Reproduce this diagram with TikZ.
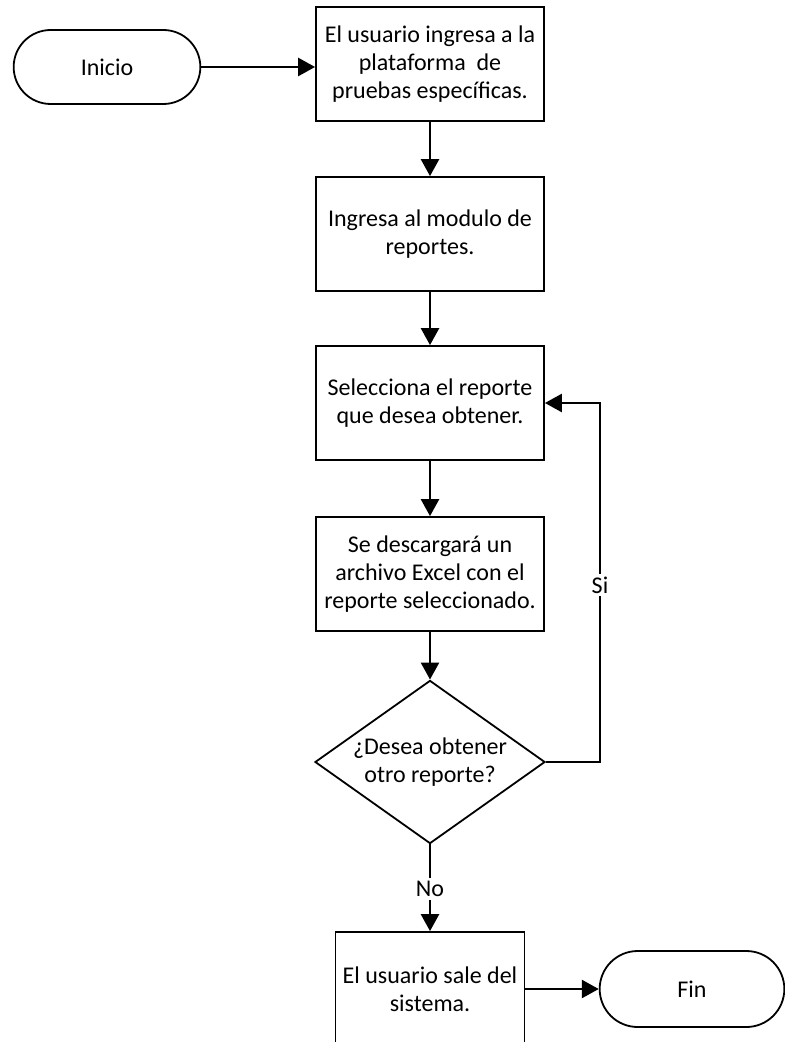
\documentclass[tikz,border=0pt]{standalone}
\usepackage{fontspec}
\setmainfont{Carlito}
\usepackage{tikz}
\usetikzlibrary{arrows.meta}
\usetikzlibrary{shapes.misc}
\usetikzlibrary{shapes.geometric}
\tikzset{caja/.style={draw, line width=0.9pt, fill=white, align=center, minimum width=114pt, minimum height=57pt, inner sep=2pt},
		terminal/.style={draw, line width=0.9pt, rounded rectangle, align=center, minimum width=100pt, minimum height=37pt},
		decision/.style={draw, line width=0.9pt, diamond, aspect=1.41, align=center, inner sep=0.8pt},
		flecha/.style={line width=1.3pt, -{Triangle[length=8.5pt,width=9pt]}},
		etiqueta/.style={fill=white, inner sep=1.5pt}}
\newcommand{\letra}{\fontsize{12}{14}\selectfont}

\begin{document}
\begin{tikzpicture}[x=0.5pt, y=-0.5pt, font=\letra]

					\useasboundingbox (0,0) rectangle (784,1042);

					\node[terminal] (inicio) at (107,67) {Inicio};

					\node[caja] (ingreso) at (430,64) {El usuario ingresa a la\\plataforma\ \ de\\pruebas específicas.};

					\node[caja] (modulo) at (430,234) {Ingresa al modulo de\\reportes.};

					\node[caja] (selecciona) at (430,403) {Selecciona el reporte\\que desea obtener.};

					\node[caja] (descarga) at (430,574) {Se descargará un\\archivo Excel con el\\reporte seleccionado.};

					\node[decision] (otro) at (430,762) {¿Desea obtener\\otro reporte?};

					\node[caja, minimum width=94.5pt] (sale) at (430,989) {El usuario sale del\\sistema.};

					\node[terminal, minimum width=99pt, minimum height=38pt] (fin) at (692,989) {Fin};

					\coordinate (retorno) at (600,585);

					\draw[flecha] (inicio.east) -- (inicio.east -| ingreso.west);

					\draw[flecha] (ingreso) -- (modulo);

					\draw[flecha] (modulo) -- (selecciona);

					\draw[flecha] (selecciona) -- (descarga);

					\draw[flecha] (descarga) -- (otro);

					\draw[flecha] (otro.east) -| (retorno) |- (selecciona.east);

					\node[etiqueta] (si) at (retorno) {Si};

					\draw[flecha] (otro.south) -- (sale.north);

					\node[etiqueta] (no) at (430,889) {No};

					\draw[flecha] (sale.east) -- (fin.west);

				\end{tikzpicture}
\end{document}
